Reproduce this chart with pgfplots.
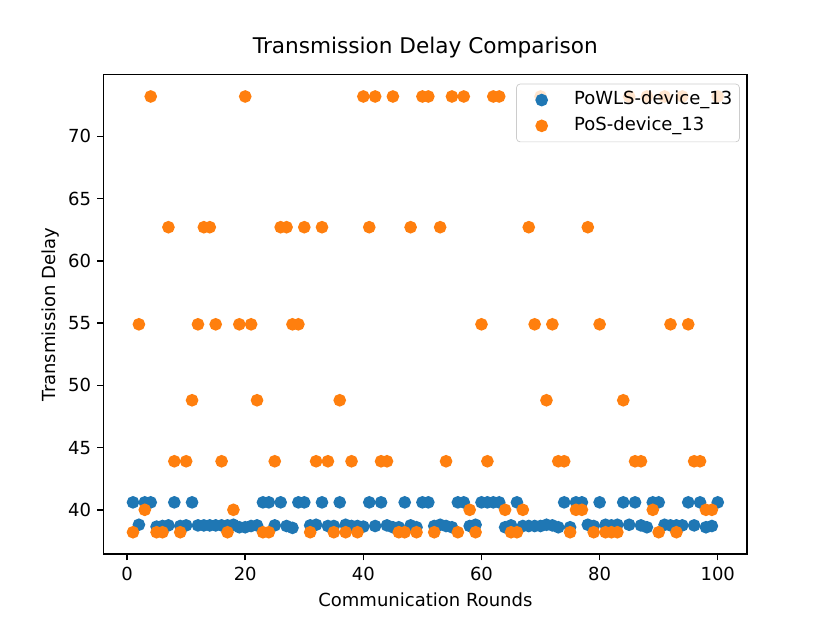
\documentclass[border=0pt]{standalone}
\usepackage{pgfplots}
\pgfplotsset{compat=1.18}
\usepackage{fontspec}
\setmainfont{DejaVu Sans}
\definecolor{tabblue}{HTML}{1F77B4}
\definecolor{taborange}{HTML}{FF7F0E}
\begin{document}
\begin{tikzpicture}
\useasboundingbox (-57.6pt,-38.02pt) rectangle (403.2pt,307.58pt);
\begin{axis}[
  at={(0,0)}, anchor=south west,
  scale only axis, width=357.12pt, height=266.11pt,
  xmin=-3.95, xmax=104.95, ymin=36.45, ymax=74.95,
  xtick={0,20,40,60,80,100}, ytick={40,45,50,55,60,65,70},
  /pgf/number format/assume math mode=true,
  tick label style={font=\fontsize{10}{12}\selectfont},
  tick align=outside, tick pos=left, major tick length=3.5pt,
  every tick/.style={black, line width=0.8pt},
  axis line style={line width=0.8pt},
  title={Transmission Delay Comparison},
  title style={font=\fontsize{12}{14}\selectfont, at={(axis description cs:0.5,1.0225)}, anchor=base, inner sep=0pt},
  xlabel={Communication Rounds},
  xlabel style={font=\fontsize{10}{12}\selectfont, at={(axis description cs:0.5,-0.095)}, anchor=center},
  ylabel={Transmission Delay},
  ylabel style={font=\fontsize{10}{12}\selectfont, at={(axis description cs:-0.082,0.5)}, anchor=center},
  legend style={at={(axis description cs:1,1)}, anchor=north east, xshift=-4pt, yshift=-5pt,
    fill=white, fill opacity=0.8, text opacity=1, draw=black!20, draw opacity=1, rounded corners=2pt,
    font=\fontsize{10}{12}\selectfont, row sep=4.5pt, column sep=8pt, inner xsep=4pt, inner ysep=4pt,
    nodes={inner sep=0pt, text height=7.6pt, text depth=2.2pt}},
  legend cell align=left,
  legend image code/.code={\path[draw=none, fill=none, use as bounding box] (0pt,-3pt) rectangle (20pt,3pt);
    \draw[fill opacity=1, draw opacity=1, #1] plot coordinates {(10pt,0pt)};},
]
\addplot[only marks, mark=*, mark size=3pt, color=tabblue, mark options={line width=1pt, fill=tabblue, draw=tabblue}] coordinates {
(1,40.6)(2,38.8)(3,40.6)(4,40.6)(5,38.65)(6,38.7)(7,38.75)(8,40.6)(9,38.7)(10,38.75)
(11,40.6)(12,38.75)(13,38.75)(14,38.75)(15,38.75)(16,38.75)(17,38.75)(18,38.8)(19,38.6)(20,38.6)
(21,38.7)(22,38.75)(23,40.6)(24,40.6)(25,38.75)(26,40.6)(27,38.7)(28,38.55)(29,40.6)(30,40.6)
(31,38.75)(32,38.8)(33,40.6)(34,38.7)(35,38.7)(36,40.6)(37,38.8)(38,38.7)(39,38.7)(40,38.65)
(41,40.6)(42,38.7)(43,40.6)(44,38.75)(45,38.6)(46,38.6)(47,40.6)(48,38.75)(49,38.6)(50,40.6)
(51,40.6)(52,38.7)(53,38.8)(54,38.7)(55,38.6)(56,40.6)(57,40.6)(58,38.7)(59,38.8)(60,40.6)
(61,40.6)(62,40.6)(63,40.6)(64,38.6)(65,38.75)(66,40.6)(67,38.7)(68,38.7)(69,38.7)(70,38.7)
(71,38.8)(72,38.75)(73,38.6)(74,40.6)(75,38.6)(76,40.6)(77,40.6)(78,38.8)(79,38.7)(80,40.6)
(81,38.8)(82,38.75)(83,38.8)(84,40.6)(85,38.8)(86,40.6)(87,38.75)(88,38.6)(89,40.6)(90,40.6)
(91,38.8)(92,38.75)(93,38.75)(94,38.75)(95,40.6)(96,38.75)(97,40.6)(98,38.6)(99,38.7)(100,40.6)
};
\addlegendentry{PoWLS-device\_13}
\addplot[only marks, mark=*, mark size=3pt, color=taborange, mark options={line width=1pt, fill=taborange, draw=taborange}] coordinates {
(1,38.2)(2,54.9)(3,40.0)(4,73.2)(5,38.2)(6,38.2)(7,62.7)(8,43.9)(9,38.2)(10,43.9)
(11,48.8)(12,54.9)(13,62.7)(14,62.7)(15,54.9)(16,43.9)(17,38.2)(18,40.0)(19,54.9)(20,73.2)
(21,54.9)(22,48.8)(23,38.2)(24,38.2)(25,43.9)(26,62.7)(27,62.7)(28,54.9)(29,54.9)(30,62.7)
(31,38.2)(32,43.9)(33,62.7)(34,43.9)(35,38.2)(36,48.8)(37,38.2)(38,43.9)(39,38.2)(40,73.2)
(41,62.7)(42,73.2)(43,43.9)(44,43.9)(45,73.2)(46,38.2)(47,38.2)(48,62.7)(49,38.2)(50,73.2)
(51,73.2)(52,38.2)(53,62.7)(54,43.9)(55,73.2)(56,38.2)(57,73.2)(58,40.0)(59,38.2)(60,54.9)
(61,43.9)(62,73.2)(63,73.2)(64,40.0)(65,38.2)(66,38.2)(67,40.0)(68,62.7)(69,54.9)(70,73.2)
(71,48.8)(72,54.9)(73,43.9)(74,43.9)(75,38.2)(76,40.0)(77,40.0)(78,62.7)(79,38.2)(80,54.9)
(81,38.2)(82,38.2)(83,38.2)(84,48.8)(85,73.2)(86,43.9)(87,43.9)(88,73.2)(89,40.0)(90,38.2)
(91,73.2)(92,54.9)(93,38.2)(94,73.2)(95,54.9)(96,43.9)(97,43.9)(98,40.0)(99,40.0)(100,73.2)
};
\addlegendentry{PoS-device\_13}
\end{axis}
\end{tikzpicture}
\end{document}
